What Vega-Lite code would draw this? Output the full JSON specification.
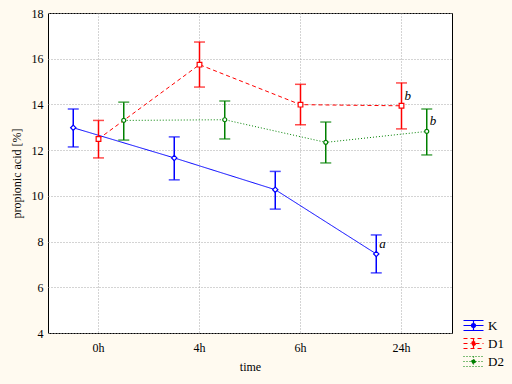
{
  "$schema": "https://vega.github.io/schema/vega-lite/v6.json",
  "width": 404,
  "height": 320,
  "autosize": {"type": "none"},
  "padding": {"left": 48, "top": 13, "right": 60, "bottom": 51},
  "background": "#fffaf0",
  "config": {
    "font": "Liberation Serif",
    "view": {"fill": "#ffffff", "stroke": "#000000", "strokeWidth": 1},
    "axis": {
      "labelFont": "Liberation Serif",
      "titleFont": "Liberation Serif",
      "labelFontSize": 12,
      "titleFontSize": 12,
      "titleFontWeight": "normal",
      "labelColor": "#000000",
      "titleColor": "#000000",
      "domain": false,
      "ticks": false,
      "gridColor": "#a8a8a8",
      "gridDash": [1, 2],
      "gridWidth": 1
    },
    "legend": {
      "labelFont": "Liberation Serif",
      "labelFontSize": 13,
      "labelColor": "#000000"
    }
  },
  "data": {
    "values": [
      {"time": "0h", "group": "K", "mean": 12.98, "lo": 12.14, "hi": 13.8, "label": null},
      {"time": "4h", "group": "K", "mean": 11.66, "lo": 10.7, "hi": 12.58, "label": null},
      {"time": "6h", "group": "K", "mean": 10.27, "lo": 9.42, "hi": 11.07, "label": null},
      {"time": "24h", "group": "K", "mean": 7.46, "lo": 6.63, "hi": 8.29, "label": "a"},
      {"time": "0h", "group": "D1", "mean": 12.49, "lo": 11.66, "hi": 13.3, "label": null},
      {"time": "4h", "group": "D1", "mean": 15.74, "lo": 14.76, "hi": 16.73, "label": null},
      {"time": "6h", "group": "D1", "mean": 13.99, "lo": 13.11, "hi": 14.88, "label": null},
      {"time": "24h", "group": "D1", "mean": 13.94, "lo": 12.93, "hi": 14.94, "label": "b"},
      {"time": "0h", "group": "D2", "mean": 13.3, "lo": 12.44, "hi": 14.1, "label": null},
      {"time": "4h", "group": "D2", "mean": 13.33, "lo": 12.49, "hi": 14.15, "label": null},
      {"time": "6h", "group": "D2", "mean": 12.34, "lo": 11.44, "hi": 13.23, "label": null},
      {"time": "24h", "group": "D2", "mean": 12.82, "lo": 11.79, "hi": 13.8, "label": "b"}
    ]
  },
  "encoding": {
    "x": {
      "field": "time",
      "type": "ordinal",
      "sort": ["0h", "4h", "6h", "24h"],
      "scale": {"type": "band", "paddingInner": 0, "paddingOuter": 0},
      "axis": {"title": "time", "labelAngle": 0, "bandPosition": 0.5, "grid": true, "labelPadding": 9, "titlePadding": 8}
    },
    "xOffset": {
      "field": "group",
      "type": "nominal",
      "scale": {"type": "point", "padding": 2.3, "domain": ["K", "D1", "D2"]}
    },
    "color": {
      "field": "group",
      "type": "nominal",
      "scale": {"domain": ["K", "D1", "D2"], "range": ["#0000ff", "#ff0000", "#008000"]},
      "legend": {
        "title": null,
        "orient": "none",
        "legendX": 419,
        "legendY": 306,
        "padding": 0,
        "symbolType": "M-2,-1H2M-2,0H-0.4M0.4,0H2M-2,1H2M0,-1V-0.4M0,0.4V1M0.4,0A0.4,0.4,0,1,1,-0.4,0A0.4,0.4,0,1,1,0.4,0",
        "symbolSize": 100,
        "symbolStrokeWidth": 1.2,
        "symbolFillColor": "#fffaf0",
        "symbolOpacity": 1,
        "labelOffset": 8,
        "rowPadding": 3
      }
    }
  },
  "layer": [
    {
      "mark": {"type": "line", "strokeWidth": 1},
      "encoding": {
        "y": {
          "field": "mean",
          "type": "quantitative",
          "scale": {"domain": [4, 18], "nice": false, "zero": false},
          "axis": {"title": "propionic acid [%]", "values": [4, 6, 8, 10, 12, 14, 16, 18], "grid": true, "labelPadding": 5, "titlePadding": 8}
        },
        "strokeDash": {
          "field": "group",
          "type": "nominal",
          "scale": {"domain": ["K", "D1", "D2"], "range": [[1, 0], [4, 3], [1, 2]]},
          "legend": null
        }
      }
    },
    {
      "mark": {"type": "rule", "strokeWidth": 1.5},
      "encoding": {
        "y": {"field": "lo", "type": "quantitative"},
        "y2": {"field": "hi"}
      }
    },
    {
      "mark": {"type": "tick", "thickness": 1.5, "size": 11, "orient": "horizontal"},
      "encoding": {"y": {"field": "lo", "type": "quantitative"}}
    },
    {
      "mark": {"type": "tick", "thickness": 1.5, "size": 11, "orient": "horizontal"},
      "encoding": {"y": {"field": "hi", "type": "quantitative"}}
    },
    {
      "transform": [{"filter": "datum.group == 'K'"}],
      "mark": {"type": "point", "shape": "diamond", "size": 28, "filled": false, "fill": "#ffffff", "fillOpacity": 1, "strokeWidth": 1.2, "opacity": 1},
      "encoding": {"y": {"field": "mean", "type": "quantitative"}}
    },
    {
      "transform": [{"filter": "datum.group == 'D1'"}],
      "mark": {"type": "point", "shape": "square", "size": 22, "filled": false, "fill": "#ffffff", "fillOpacity": 1, "strokeWidth": 1.2, "opacity": 1},
      "encoding": {"y": {"field": "mean", "type": "quantitative"}}
    },
    {
      "transform": [{"filter": "datum.group == 'D2'"}],
      "mark": {"type": "point", "shape": "circle", "size": 16, "filled": false, "fill": "#ffffff", "fillOpacity": 1, "strokeWidth": 1.2, "opacity": 1},
      "encoding": {"y": {"field": "mean", "type": "quantitative"}}
    },
    {
      "transform": [{"filter": "datum.label != null"}],
      "mark": {"type": "text", "align": "left", "baseline": "middle", "dx": 3, "dy": -10, "fontStyle": "italic", "fontSize": 13},
      "encoding": {
        "y": {"field": "mean", "type": "quantitative"},
        "text": {"field": "label"},
        "color": {"value": "#000000"}
      }
    }
  ]
}
